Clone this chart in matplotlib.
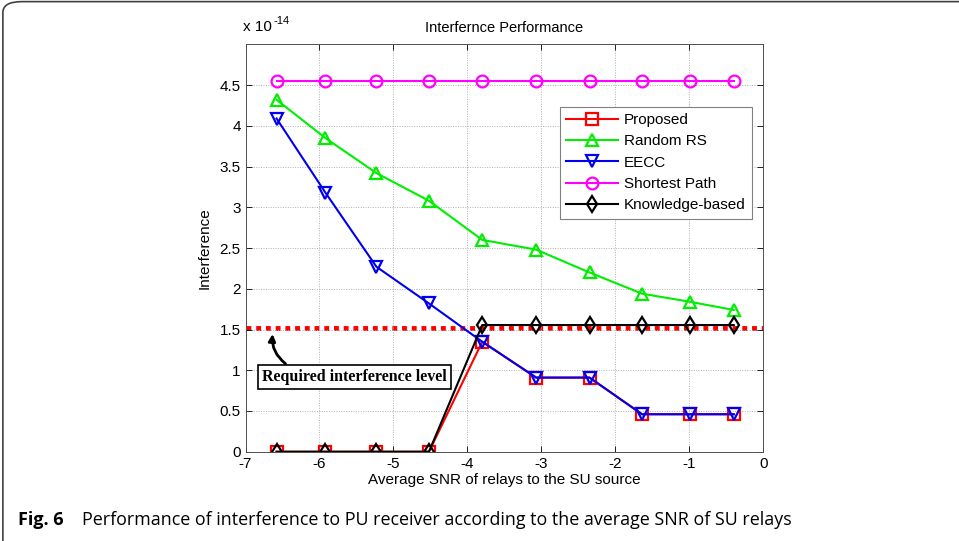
import numpy as np
import matplotlib
matplotlib.use('Agg')
import matplotlib.pyplot as plt
from matplotlib.patches import FancyBboxPatch

# ---------------------------------------------------------------
# data (interference in units of 1e-14)
# ---------------------------------------------------------------
snr = [-6.58, -5.92, -5.23, -4.52, -3.80, -3.07, -2.35, -1.64, -0.99, -0.40]
proposed = [0, 0, 0, 0, 1.35, 0.91, 0.91, 0.46, 0.46, 0.46]
random_rs = [4.32, 3.85, 3.42, 3.08, 2.60, 2.48, 2.20, 1.94, 1.84, 1.74]
eecc = [4.09, 3.18, 2.27, 1.82, 1.35, 0.91, 0.91, 0.46, 0.46, 0.46]
shortest = [4.55] * 10
knowledge = [0, 0, 0, 0, 1.555, 1.555, 1.555, 1.555, 1.555, 1.555]
required_level = 1.52

yticks = [0, 0.5, 1, 1.5, 2, 2.5, 3, 3.5, 4, 4.5]
xticks = [-7, -6, -5, -4, -3, -2, -1, 0]

plt.rcParams['font.family'] = ['Liberation Sans', 'DejaVu Sans']

fig = plt.figure(figsize=(9.59, 5.41), dpi=100)
ax = fig.add_axes([0.256, 0.165, 0.540, 0.753])

mk = dict(mfc='none', mew=1.6, ms=8.5, lw=1.5)
ax.plot([-7, 0], [required_level, required_level], color='red',
        ls=(0, (1, 1)), lw=3.5, zorder=1)
ax.plot(snr, proposed, 's-', color='red', label='Proposed', **mk)
ax.plot(snr, random_rs, '^-', color='#00ee00', label='Random RS', **mk)
ax.plot(snr, eecc, 'v-', color='#0000ee', label='EECC', **mk)
ax.plot(snr, shortest, 'o-', color='#ff00ff', label='Shortest Path', **mk)
ax.plot(snr, knowledge, 'd-', color='black', label='Knowledge-based', **mk)

ax.set_xlim(-7, 0)
ax.set_ylim(0, 5)
ax.set_xticks(xticks)
ax.set_yticks(yticks)
ax.set_xticklabels([str(t) for t in xticks])
ax.set_yticklabels(['0', '0.5', '1', '1.5', '2', '2.5', '3', '3.5', '4', '4.5'])
ax.tick_params(labelsize=11, direction='in', length=4, width=0.6, top=True, right=True)
ax.grid(True, color='#b0b0b0', ls=(0, (1, 1.5)), lw=0.7)
for s in ax.spines.values():
    s.set_color('#505050')
    s.set_linewidth(0.7)

ax.set_xlabel('Average SNR of relays to the SU source', fontsize=11, labelpad=2)
ax.set_ylabel('Interference', fontsize=11, labelpad=6)
ax.set_title('Interfernce Performance', fontsize=10.5, pad=9)
ax.text(-0.005, 1.025, 'x 10', transform=ax.transAxes,
        fontsize=11, ha='left', va='bottom')
ax.text(0.054, 1.045, '-14', transform=ax.transAxes,
        fontsize=8, ha='left', va='bottom')

leg = ax.legend(loc='upper right', bbox_to_anchor=(0.993, 0.865), fontsize=11,
                handlelength=3.4, fancybox=False, framealpha=1,
                edgecolor='#808080', borderpad=0.4, labelspacing=0.48,
                handletextpad=0.4)
leg.get_frame().set_linewidth(0.8)

ax.annotate('', xy=(-6.63, 1.48), xytext=(-6.43, 1.06),
            arrowprops=dict(arrowstyle='-|>', color='black', lw=2,
                            connectionstyle='arc3,rad=-0.3', mutation_scale=10))
ax.text(-5.53, 0.92, 'Required interference level', fontsize=11.5,
        family=['Liberation Serif'], fontweight='bold', ha='center', va='center',
        bbox=dict(boxstyle='square,pad=0.25', fc='white', ec='black', lw=1.2))

# caption and outer rounded frame
fig.text(0.019, 0.03, 'Fig. 6', fontsize=13, fontweight='bold',
         family=['Open Sans'], ha='left', va='baseline')
fig.text(0.085, 0.03, 'Performance of interference to PU receiver according to the '
         'average SNR of SU relays', fontsize=12.9, family=['Open Sans'],
         ha='left', va='baseline')

frame = FancyBboxPatch((0.003, -0.02), 1.02, 1.017,
                       boxstyle='round,pad=0,rounding_size=0.02',
                       transform=fig.transFigure, fc='none', ec='#404040', lw=1.2)
fig.patches.append(frame)

fig.savefig('out.png', dpi=100)
